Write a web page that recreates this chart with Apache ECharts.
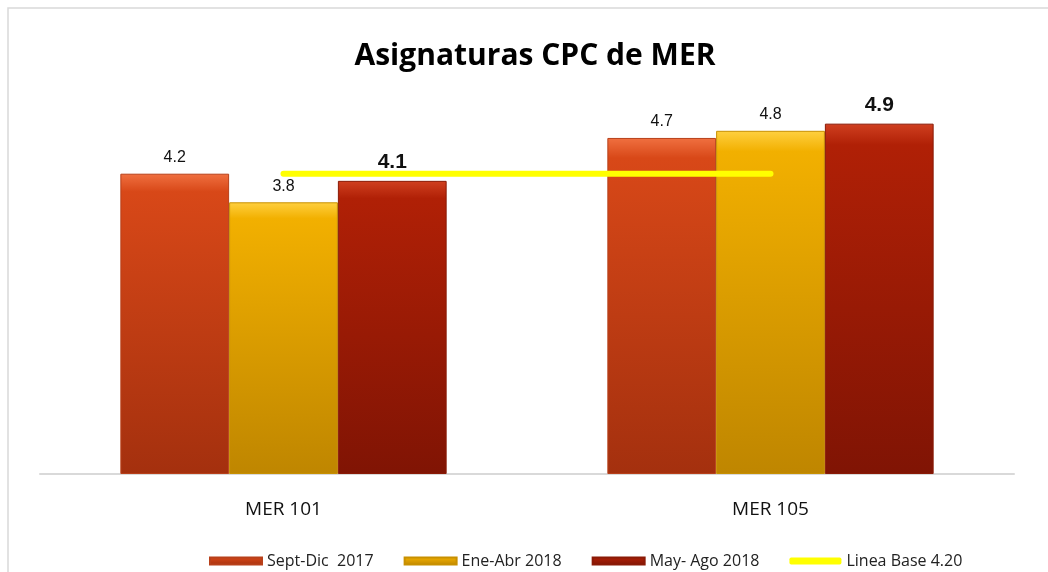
<!DOCTYPE html>
<html>
<head>
<meta charset="utf-8">
<script src="https://cdn.jsdelivr.net/npm/echarts@6/dist/echarts.min.js"></script>
<style>
  html, body { margin: 0; padding: 0; background: #fff; }
  #chart { width: 1048px; height: 572px; }
</style>
</head>
<body>
<div id="chart"></div>
<script>
// datos
const categorias = ['MER 101', 'MER 105'];
const septDic2017 = [4.2, 4.7];
const eneAbr2018 = [3.8, 4.8];
const mayAgo2018 = [4.1, 4.9];
const lineaBase = [4.2, 4.2];

const nombres = ['Sept-Dic  2017', 'Ene-Abr 2018', 'May- Ago 2018', 'Linea Base 4.20'];

const chart = echarts.init(document.getElementById('chart'));

function degradado(arriba, medio, abajo) {
  return new echarts.graphic.LinearGradient(0, 0, 0, 1, [
    {offset: 0, color: arriba},
    {offset: 0.06, color: medio},
    {offset: 1, color: abajo}
  ]);
}

const etiquetaNormal = {
  show: true,
  position: 'top',
  distance: 8,
  color: '#111',
  fontSize: 16,
  fontFamily: 'Liberation Sans Narrow, Liberation Sans, Arial',
  formatter: (p) => p.value.toFixed(1)
};

const etiquetaNegrita = {
  ...etiquetaNormal,
  fontSize: 21,
  fontWeight: 'bold',
  distance: 8
};

chart.setOption({
  animation: false,
  title: {
    text: 'Asignaturas CPC de MER',
    left: 530,
    top: 36,
    textAlign: 'center',
    textStyle: {
      fontFamily: 'Open Sans',
      fontWeight: 'bold',
      fontSize: 30,
      color: '#000'
    }
  },
  graphic: [
    {
      type: 'rect',
      shape: {x: 8, y: 8, width: 1060, height: 600},
      style: {fill: 'none', stroke: '#d9d9d9', lineWidth: 1.5},
      silent: true
    }
  ],
  legend: {
    top: 548,
    left: 204,
    itemGap: 30,
    itemWidth: 52,
    itemHeight: 7,
    textStyle: {fontFamily: 'Open Sans', fontSize: 16, color: '#222'},
    data: [
      {name: nombres[0], icon: 'rect'},
      {name: nombres[1], icon: 'rect'},
      {name: nombres[2], icon: 'rect'},
      {name: nombres[3], icon: 'roundRect', itemStyle: {color: '#ffff00', borderWidth: 0}}
    ]
  },
  grid: {left: 40, right: 34, top: 45, bottom: 98},
  xAxis: {
    type: 'category',
    data: categorias,
    axisLine: {lineStyle: {color: '#d9d9d9', width: 2}},
    axisTick: {show: false},
    axisLabel: {
      margin: 26,
      fontFamily: 'Open Sans',
      fontSize: 19,
      color: '#111'
    }
  },
  yAxis: {
    type: 'value',
    min: 0,
    max: 6,
    show: false,
    splitLine: {show: false}
  },
  series: [
    {
      name: nombres[0],
      type: 'bar',
      data: septDic2017,
      barGap: '0%',
      barCategoryGap: '33%',
      itemStyle: {
        color: degradado('#f07040', '#d84818', '#a4300e'),
        borderColor: '#b8401a',
        borderWidth: 1
      },
      label: etiquetaNormal
    },
    {
      name: nombres[1],
      type: 'bar',
      data: eneAbr2018,
      itemStyle: {
        color: degradado('#ffd040', '#f2b000', '#bf8600'),
        borderColor: '#c89000',
        borderWidth: 1
      },
      label: etiquetaNormal
    },
    {
      name: nombres[2],
      type: 'bar',
      data: mayAgo2018,
      itemStyle: {
        color: degradado('#d04020', '#b02006', '#801404'),
        borderColor: '#8a1a06',
        borderWidth: 1
      },
      label: etiquetaNegrita
    },
    {
      name: nombres[3],
      type: 'line',
      data: lineaBase,
      symbol: 'none',
      z: 5,
      lineStyle: {color: '#ffff00', width: 6, cap: 'round'},
      itemStyle: {color: '#ffff00'}
    }
  ]
});
</script>
</body>
</html>
